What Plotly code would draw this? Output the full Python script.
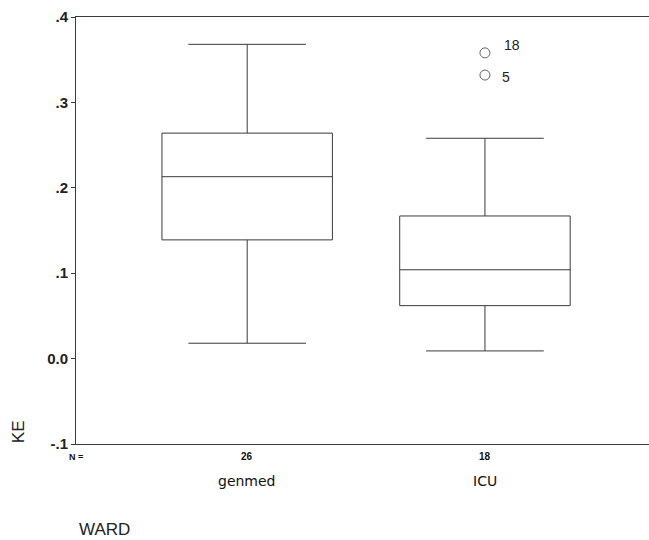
import plotly.graph_objects as go

categories = ["genmed", "ICU"]
n_counts = ["26", "18"]
q1 = [0.139, 0.062]
median = [0.213, 0.104]
q3 = [0.264, 0.167]
lowerfence = [0.018, 0.009]
upperfence = [0.368, 0.258]
outlier_cat = ["ICU", "ICU"]
outlier_val = [0.358, 0.332]
outlier_lab = ["18", "5"]
ytick_vals = [-0.1, 0.0, 0.1, 0.2, 0.3, 0.4]
ytick_text = ["-.1", "0.0", ".1", ".2", ".3", ".4"]

LINE = "#3a3a3a"
fig = go.Figure()
fig.add_trace(go.Box(
    x=categories, q1=q1, median=median, q3=q3,
    lowerfence=lowerfence, upperfence=upperfence,
    width=0.717, whiskerwidth=0.69,
    line=dict(color=LINE, width=1), fillcolor="rgba(255,255,255,0)",
    boxpoints=False, showlegend=False, hoverinfo="skip",
))
fig.add_trace(go.Scatter(
    x=outlier_cat, y=outlier_val, mode="markers",
    marker=dict(symbol="circle-open", size=10, color="#666", line=dict(width=1)),
    showlegend=False, hoverinfo="skip",
))
shifts = [(17, 8), (15, -2)]
for cat, v, lab, (dx, dy) in zip(outlier_cat, outlier_val, outlier_lab, shifts):
    fig.add_annotation(x=cat, xref="x", y=v, yref="y", text=lab, showarrow=False,
                       xanchor="left", yanchor="middle", xshift=dx, yshift=dy,
                       font=dict(family="Liberation Sans", size=14, color="#222"))

fig.update_layout(
    width=649, height=540,
    margin=dict(l=76, r=0, t=17, b=96),
    plot_bgcolor="white", paper_bgcolor="white",
    font=dict(family="Liberation Sans", color="#222"),
)
fig.update_xaxes(
    type="category", categoryarray=categories, range=[-0.72, 1.69],
    showticklabels=False, ticks="", showgrid=False, zeroline=False,
    showline=True, linecolor=LINE, linewidth=1, mirror=True,
)
fig.update_yaxes(
    range=[-0.1, 0.4], tickvals=ytick_vals, ticktext=["<b>" + t + "</b>" for t in ytick_text],
    ticks="outside", ticklen=4, tickcolor=LINE, showgrid=False, zeroline=False,
    showline=True, linecolor=LINE, linewidth=1,
    tickfont=dict(family="Liberation Sans", size=15, color="#222"),
)

for cat, n in zip(categories, n_counts):
    fig.add_annotation(x=cat, xref="x", y=-0.0304, yref="paper", yanchor="middle", text="<b>" + n + "</b>",
                       showarrow=False, font=dict(family="Liberation Sans Narrow, Liberation Sans", size=10, color="#111"))
    fig.add_annotation(x=cat, xref="x", y=-0.0867, yref="paper", yanchor="middle", text=cat,
                       showarrow=False, font=dict(family="DejaVu Sans", size=14, color="#111"))
fig.add_annotation(xref="x domain", x=-0.016, xanchor="left", yref="paper", y=-0.0304, yanchor="middle",
                   text="<b>N =</b>", showarrow=False,
                   font=dict(family="Liberation Sans", size=9, color="#111"))
fig.add_annotation(xref="paper", x=-0.101, xanchor="center", yref="paper", y=0.028, yanchor="middle",
                   text="KE", textangle=-90,
                   showarrow=False, font=dict(family="Liberation Sans", size=17, color="#222"))
fig.add_annotation(xref="paper", x=0.0017, xanchor="left", yref="paper", y=-0.201, yanchor="middle",
                   text="WARD", showarrow=False, font=dict(family="Liberation Sans", size=17, color="#222"))

fig.write_html(
    "out.html",
    config={"responsive": False, "displayModeBar": False},
    post_script="document.body.style.margin='0px';document.body.style.overflow='hidden';",
)
